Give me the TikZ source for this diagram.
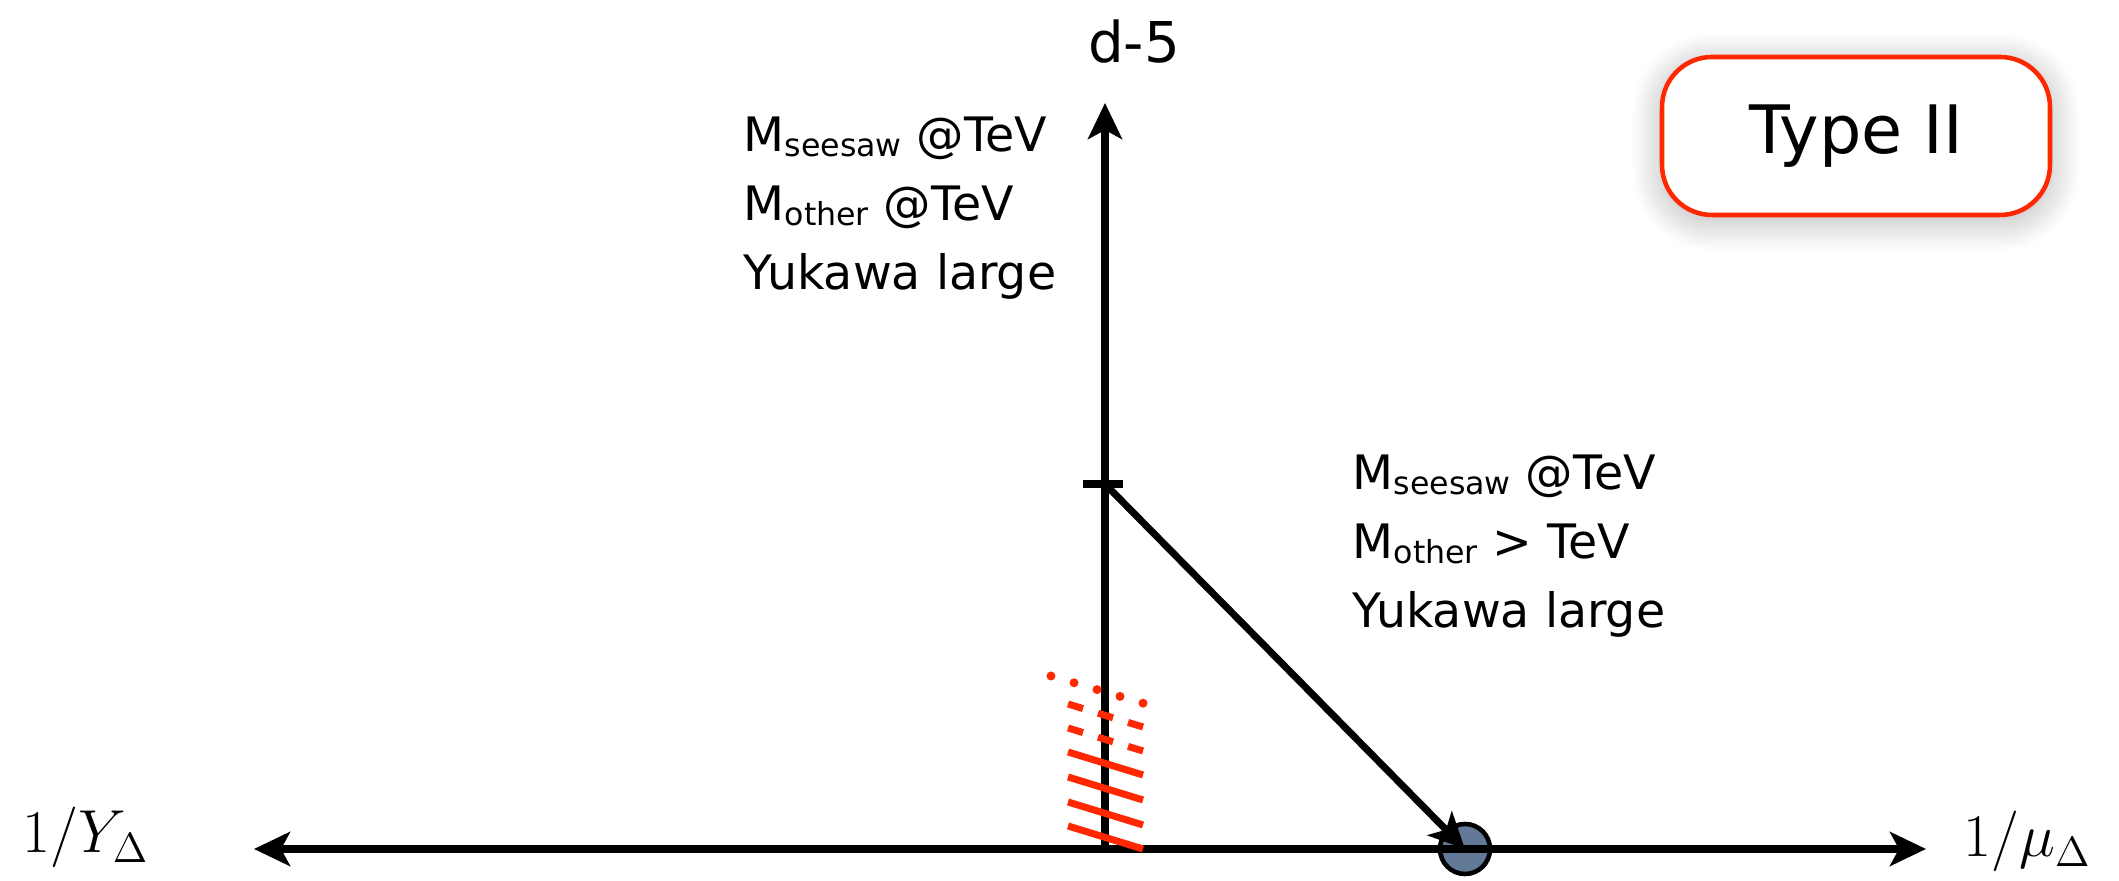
\documentclass[tikz,border=0pt]{standalone}
\usepackage{fontspec}
\newfontfamily\comicfont{DejaVu Sans}
\usetikzlibrary{arrows.meta,shadows.blur}
\definecolor{typered}{RGB}{255,40,0}
\definecolor{dotblue}{RGB}{98,122,152}
\newcommand{\lowtext}[1]{\raisebox{-1.5pt}{\fontsize{9}{10}\selectfont #1}}
\begin{document}
\begin{tikzpicture}[x=0.1mm, y=-0.1mm,
  >={Stealth[length=3.6mm,width=3.4mm,inset=0.9mm]},
  axis/.style={line width=2pt},
  txt/.style={font=\comicfont\fontsize{13.5}{19.6}\selectfont, align=left, anchor=north west, inner sep=0pt},
  hatch/.style={typered, line width=0.7mm},
  typebox/.style={draw=typered, line width=1.3pt, rounded corners=5mm, fill=white,
    minimum width=38.8mm, minimum height=15.8mm,
    blur shadow={shadow xshift=0pt, shadow yshift=-0.6mm, shadow blur radius=3mm, shadow blur steps=12, shadow opacity=30},
    font=\comicfont\fontsize{19}{21}\selectfont}]
\useasboundingbox (0,0) rectangle (2119,881);
% axes
\coordinate (L) at (254,849);
\coordinate (R) at (1926,849);
\coordinate (O) at (1105,849);
\coordinate (top) at (1105,103);
\coordinate (tick) at (1105,484);
\node[circle, draw, line width=1.3pt, fill=dotblue, minimum size=5mm, inner sep=0pt] (dot) at (1465,849) {};
\draw[axis, <->] (L) -- (R);
\draw[axis, ->] (O) -- (top);
\draw[axis] (tick) +(-22,0) -- +(18,0);
\draw[axis, ->] (tick) -- (dot.center);
% hatching
\foreach \y in {752,777,802,826}
  \draw[hatch] (1068,\y) -- ++(75,23);
\foreach \y in {704,728}
  \draw[hatch, dash pattern=on 1.57mm off 1.57mm] (1068,\y) -- ++(75,23);
\foreach \i in {0,...,4}
  \fill[typered] (1051+23*\i, 676+6.8*\i) circle (0.45mm);
% labels
\node[font=\comicfont\fontsize{16}{19}\selectfont, anchor=base] (dlab) at (1134,63) {d-5};
\node[font=\fontsize{17}{20}\selectfont, anchor=base west, inner sep=0pt] (ylab) at (22,853) {$1/Y_\Delta$};
\node[font=\fontsize{17}{20}\selectfont, anchor=base west, inner sep=0pt] (mulab) at (1963,857) {$1/\mu_\Delta$};
\node[txt] (upper) at (743,116) {M\lowtext{seesaw} @TeV\\M\lowtext{other} @TeV\\Yukawa large};
\node[txt] (lower) at (1352,454) {M\lowtext{seesaw} @TeV\\M\lowtext{other} > TeV\\Yukawa large};
\node[typebox] (type) at (1856,136) {Type II};
\end{tikzpicture}
\end{document}
